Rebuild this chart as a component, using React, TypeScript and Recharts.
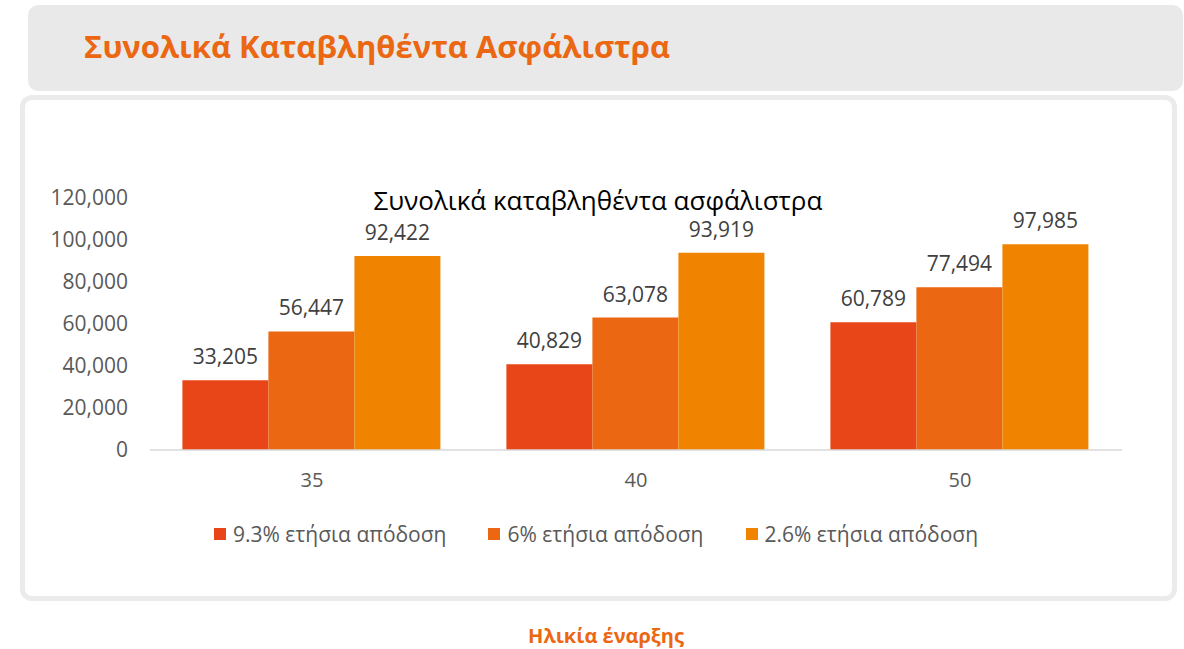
import React from 'react';
import { BarChart, Bar, XAxis, YAxis, LabelList } from 'recharts';

const ages = ['35', '40', '50'];
const yield93 = [33205, 40829, 60789];
const yield6 = [56447, 63078, 77494];
const yield26 = [92422, 93919, 97985];
const yTicks = [0, 20000, 40000, 60000, 80000, 100000, 120000];

const seriesNames = ['9.3% ετήσια απόδοση', '6% ετήσια απόδοση', '2.6% ετήσια απόδοση'];
const seriesColors = ['#E84618', '#EB6712', '#F08300'];

const data = ages.map((a, i) => ({ age: a, s1: yield93[i], s2: yield6[i], s3: yield26[i] }));

const font = '"Open Sans", sans-serif';
const fmt = (v: number) => v.toLocaleString('en-US');

function LegendRow() {
  return (
    <div style={{ display: 'flex', justifyContent: 'center', gap: 42, fontFamily: font, fontSize: 21, color: '#595959' }}>
      {seriesNames.map((n, i) => (
        <div key={n} style={{ display: 'flex', alignItems: 'center' }}>
          <span style={{ width: 12, height: 12, background: seriesColors[i], marginRight: 7, display: 'inline-block' }} />
          {n}
        </div>
      ))}
    </div>
  );
}

export default function App() {
  const labelStyle = { fontSize: 21, fill: '#404040', fontFamily: font };
  return (
    <div style={{ position: 'absolute', left: 0, top: 0, width: 1184, height: 649, background: '#fff', overflow: 'hidden', fontFamily: font }}>
      <div style={{ position: 'absolute', left: 28, top: 5, width: 1155, height: 86, background: '#E9E9E9', borderRadius: 10 }}>
        <div style={{ position: 'absolute', left: 56, top: 20, fontSize: 31, fontWeight: 700, color: '#EB6712', whiteSpace: 'nowrap' }}>
          Συνολικά Καταβληθέντα Ασφάλιστρα
        </div>
      </div>
      <div style={{ position: 'absolute', left: 20, top: 95, width: 1147, height: 496, border: '5px solid #EBEBEB', borderRadius: 12, background: '#fff' }} />
      <div style={{ position: 'absolute', left: 0, width: 1196, top: 182, textAlign: 'center', fontSize: 26, color: '#000' }}>
        Συνολικά καταβληθέντα ασφάλιστρα
      </div>
      <div style={{ position: 'absolute', left: 20, top: 95 }}>
        <BarChart width={1156} height={505} data={data} margin={{ top: 103, right: 54, left: 0, bottom: 120 }} barCategoryGap="10%" barGap={0}>
          <XAxis dataKey="age" axisLine={{ stroke: '#D9D9D9', strokeWidth: 1.5 }} tickLine={false} tickMargin={17}
            tick={{ fontSize: 20, fill: '#595959', fontFamily: font }} />
          <YAxis domain={[0, 120000]} ticks={yTicks} width={130} axisLine={false} tickLine={false} tickMargin={16}
            tickFormatter={fmt} tick={{ fontSize: 21, fill: '#595959', fontFamily: font }} />
          <Bar dataKey="s1" fill={seriesColors[0]} isAnimationActive={false}>
            <LabelList dataKey="s1" position="top" offset={16} formatter={(v: any) => fmt(Number(v))} style={labelStyle} />
          </Bar>
          <Bar dataKey="s2" fill={seriesColors[1]} isAnimationActive={false}>
            <LabelList dataKey="s2" position="top" offset={16} formatter={(v: any) => fmt(Number(v))} style={labelStyle} />
          </Bar>
          <Bar dataKey="s3" fill={seriesColors[2]} isAnimationActive={false}>
            <LabelList dataKey="s3" position="top" offset={16} formatter={(v: any) => fmt(Number(v))} style={labelStyle} />
          </Bar>
        </BarChart>
      </div>
      <div style={{ position: 'absolute', left: 0, width: 1192, top: 520 }}>
        <LegendRow />
      </div>
      <div style={{ position: 'absolute', left: 0, width: 1212, top: 622, textAlign: 'center', fontSize: 20, fontWeight: 700, color: '#EB6712' }}>
        Ηλικία έναρξης
      </div>
    </div>
  );
}
